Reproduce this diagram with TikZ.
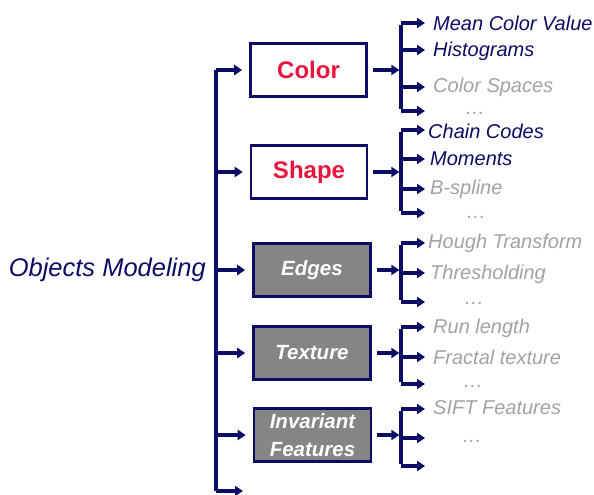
\documentclass[tikz,border=0pt]{standalone}
\usepackage{fontspec}
\setmainfont{Liberation Sans}
\usetikzlibrary{arrows.meta}
\definecolor{navy}{HTML}{0C0C66}
\definecolor{lightgray}{HTML}{A2A2A2}
\definecolor{boxgray}{HTML}{858585}
\definecolor{redtext}{HTML}{E8153F}
\begin{document}
\begin{tikzpicture}[x=1pt,y=-1pt,
  line/.style={draw=navy,line width=3.2pt},
  arr/.style={line,-{Triangle[length=8pt,width=10pt]}},
  whitebox/.style={draw=navy,line width=2.6pt,fill=white,minimum width=116pt,minimum height=53pt,
     text=redtext,font=\fontsize{24}{26}\selectfont\bfseries},
  graybox/.style={draw=navy,line width=2.6pt,fill=boxgray,minimum width=117pt,minimum height=53pt,
     text=white,align=center,font=\fontsize{20.5}{28}\selectfont\bfseries\itshape},
  leafa/.style={anchor=west,inner sep=0pt,text=navy,font=\fontsize{20}{22}\selectfont\itshape},
  leafb/.style={anchor=west,inner sep=0pt,text=lightgray,font=\fontsize{20}{22}\selectfont\itshape},
  dots/.style={anchor=west,inner sep=0pt,text=lightgray,font=\fontsize{20}{22}\selectfont\itshape},
]
\useasboundingbox (0,0) rectangle (594,495);

% main label
\node[anchor=east,inner sep=0pt,text=navy,font=\fontsize{25.5}{28}\selectfont\itshape] (om) at (206,270) {Objects Modeling};

% boxes
\node[whitebox] (color) at (308.5,70) {Color};
\node[whitebox] (shape) at (309,172) {Shape};
\node[graybox] (edges) at (312,270) {Edges};
\node[graybox] (texture) at (312,353) {Texture};
\node[graybox] (inv) at (312.5,435) {Invariant\\Features};

% trunk
\coordinate (tr) at (216,0);
\coordinate (tbot) at (216,491);
\coordinate (tend) at (243,491);
\draw[line] (color.west -| tr) -- (tbot);
\draw[arr] (tbot) -- (tend);
\foreach \b in {color,shape,edges,texture,inv}{
  \draw[arr,shorten >=7pt] (\b.west -| tr) -- (\b.west);
}

% sub trunks
\coordinate (sx) at (401,0);
\foreach \b in {color,shape,edges,texture,inv}{
  \draw[arr,shorten <=5pt] (\b.east) -- ([xshift=-1.6pt]\b.east -| sx);
}

% leaf items
\node[leafa] (c1) at (433,23) {Mean Color Value};
\node[leafa] (c2) at (433,51) {Histograms};
\node[leafb] (c3) at (433,87) {Color Spaces};
\node[dots] (c4) at (465,113) {…};

\node[leafa] (s1) at (428,131) {Chain Codes};
\node[leafa] (s2) at (430,159) {Moments};
\node[leafb] (s3) at (430,189) {B-spline};
\node[dots] (s4) at (466,217) {…};

\node[leafb] (e1) at (428,243) {Hough Transform};
\node[leafb] (e2) at (430,274) {Thresholding};
\node[dots] (e3) at (464,303) {…};

\node[leafb] (t1) at (433,328) {Run length};
\node[leafb] (t2) at (433,357) {Fractal texture};
\node[dots] (t3) at (463,386) {…};

\node[leafb] (i1) at (433,408) {SIFT Features};
\node[dots] (i2) at (462,441) {…};

% branch arrows
\foreach \ys in {{23,50,87,111},{130,159,189,213},{243,273,302},{327,357,384},{409,438,466}}{
  \foreach \y in \ys {
    \coordinate (leaftip) at (425,\y);
    \draw[arr] (leaftip -| sx) -- (leaftip);
  }
}
\foreach \t/\bt in {23/111,130/213,243/302,327/384,409/466}{
  \coordinate (subtop) at (401,\t);
  \coordinate (subbot) at (401,\bt);
  \draw[line] ([yshift=-1.6pt]subtop) -- ([yshift=1.6pt]subbot);
}
\end{tikzpicture}
\end{document}
